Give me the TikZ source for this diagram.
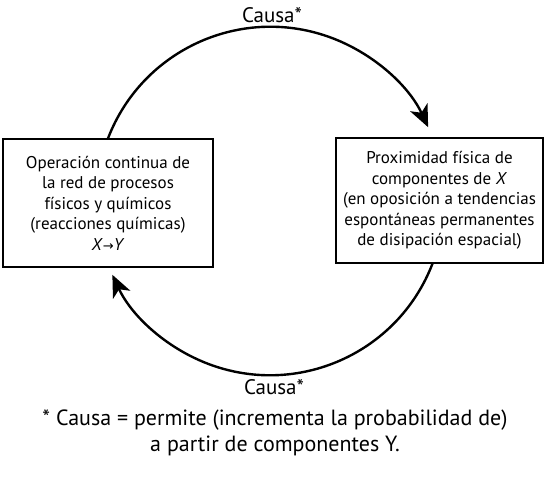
\documentclass[tikz,border=0pt]{standalone}
\usepackage{fontspec}
\setmainfont{PT Sans}
\newfontfamily\arrowfont{DejaVu Sans}
\usetikzlibrary{arrows.meta,positioning,calc}

\begin{document}
\begin{tikzpicture}[
    x=1pt, y=1pt,
    box/.style={rectangle, draw, line width=1.2pt, align=center, font=\fontsize{17}{20.5}\selectfont, inner sep=0pt},
    cause/.style={line width=2.4pt, -{Stealth[length=22pt,width=19pt,inset=6pt]}},
    lbl/.style={font=\fontsize{21}{22}\selectfont}
]
    \useasboundingbox (0,0) rectangle (550,482);
    \coordinate (c) at (270,281);

    \node[box, minimum width=210, minimum height=128] (op) at (108,279)
        {Operación continua de\\la red de procesos\\físicos y químicos\\(reacciones químicas)\\\textit{X}{\arrowfont\fontsize{13}{20.5}\selectfont →}\textit{Y}};
    \node[box, minimum width=207, minimum height=125] (prox) at (439.5,281.5)
        {Proximidad física de\\componentes de \textit{X}\\(en oposición a tendencias\\espontáneas permanentes\\de disipación espacial)};

    \draw[cause] (op.north) arc[start angle=159, end angle=25, radius=174];
    \draw[cause] ($(prox.south)+(-7,0)$) arc[start angle=-21, end angle=-155, radius=174];

    \node[lbl] (top) at (272,467) {Causa*};
    \node[lbl] (bot) at (274,95) {Causa*};
    \node[font=\fontsize{22}{26}\selectfont, align=center] (note) at (275,49)
        {* Causa = permite (incrementa la probabilidad de)\\a partir de componentes Y.};
\end{tikzpicture}
\end{document}
